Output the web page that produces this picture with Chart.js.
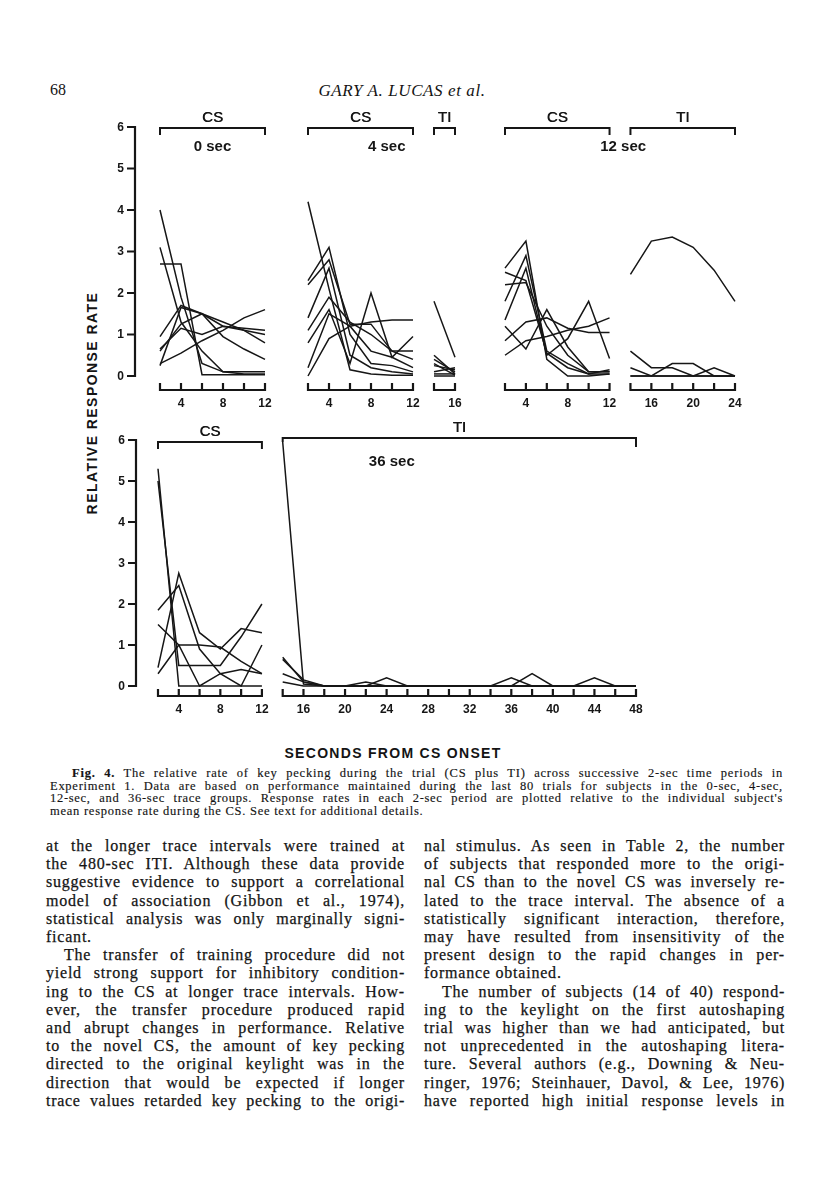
<!DOCTYPE html>
<html>
<head>
<meta charset="utf-8">
<script src="https://cdn.jsdelivr.net/npm/chart.js@4.4.1/dist/chart.umd.min.js"></script>
<style>
body { margin: 0; background: #fff; }
#page {
  position: relative; width: 816px; height: 1200px; overflow: hidden;
  font-family: "Liberation Serif", serif; color: #141414;
}
#page canvas { position: absolute; }
.abs { position: absolute; white-space: pre; }
.col { position: absolute; font-size: 16px; line-height: 18.2px; -webkit-text-stroke: 0.25px #141414; }
.cap { position: absolute; font-size: 12.5px; line-height: 12.5px; -webkit-text-stroke: 0.15px #141414; }
.ln { white-space: pre; }
.ln span { display: inline-block; white-space: pre; }
.sans { font-family: "Liberation Sans", sans-serif; font-weight: bold; }
#ylab {
  left: 92px; top: 403px; font-size: 14px; letter-spacing: 1.45px;
  transform: translate(-50%, -50%) rotate(-90deg);
}
#xlab { left: 393px; top: 753px; font-size: 14px; letter-spacing: 1.3px; transform: translate(-50%, -50%); }
</style>
</head>
<body>
<div id="page">

  <div class="abs" style="left:50px; top:81px; font-size:16px;">68</div>
  <div class="abs" style="left:402px; top:81px; font-size:17px; font-style:italic; letter-spacing:0.6px; transform:translateX(-50%);">GARY A. LUCAS et al.</div>

  <div id="ylab" class="abs sans">RELATIVE RESPONSE RATE</div>
  <div id="xlab" class="abs sans">SECONDS FROM CS ONSET</div>

  <!-- caption -->
  <div class="cap" style="left:50px; top:767px; width:733px;">
    <div class="ln" data-ind="22"><b>Fig. 4.</b> The relative rate of key pecking during the trial (CS plus TI) across successive 2-sec time periods in</div>
    <div class="ln">Experiment 1. Data are based on performance maintained during the last 80 trials for subjects in the 0-sec, 4-sec,</div>
    <div class="ln">12-sec, and 36-sec trace groups. Response rates in each 2-sec period are plotted relative to the individual subject's</div>
    <div class="ln end">mean response rate during the CS. See text for additional details.</div>
  </div>

  <!-- text columns -->
  <div class="col" style="left:46px; top:837px; width:359px;">
    <div class="ln">at the longer trace intervals were trained at</div>
    <div class="ln">the 480-sec ITI. Although these data provide</div>
    <div class="ln">suggestive evidence to support a correlational</div>
    <div class="ln">model of association (Gibbon et al., 1974),</div>
    <div class="ln">statistical analysis was only marginally signi-</div>
    <div class="ln end">ficant.</div>
    <div class="ln" data-ind="18">The transfer of training procedure did not</div>
    <div class="ln">yield strong support for inhibitory condition-</div>
    <div class="ln">ing to the CS at longer trace intervals. How-</div>
    <div class="ln">ever, the transfer procedure produced rapid</div>
    <div class="ln">and abrupt changes in performance. Relative</div>
    <div class="ln">to the novel CS, the amount of key pecking</div>
    <div class="ln">directed to the original keylight was in the</div>
    <div class="ln">direction that would be expected if longer</div>
    <div class="ln">trace values retarded key pecking to the origi-</div>
  </div>
  <div class="col" style="left:424px; top:837px; width:361px;">
    <div class="ln">nal stimulus. As seen in Table 2, the number</div>
    <div class="ln">of subjects that responded more to the origi-</div>
    <div class="ln">nal CS than to the novel CS was inversely re-</div>
    <div class="ln">lated to the trace interval. The absence of a</div>
    <div class="ln">statistically significant interaction, therefore,</div>
    <div class="ln">may have resulted from insensitivity of the</div>
    <div class="ln">present design to the rapid changes in per-</div>
    <div class="ln end">formance obtained.</div>
    <div class="ln" data-ind="18">The number of subjects (14 of 40) respond-</div>
    <div class="ln">ing to the keylight on the first autoshaping</div>
    <div class="ln">trial was higher than we had anticipated, but</div>
    <div class="ln">not unprecedented in the autoshaping litera-</div>
    <div class="ln">ture. Several authors (e.g., Downing &amp; Neu-</div>
    <div class="ln">ringer, 1976; Steinhauer, Davol, &amp; Lee, 1976)</div>
    <div class="ln">have reported high initial response levels in</div>
  </div>
</div>

<script>
// time axis (sec from CS onset), one point every 2 sec
var csTimes   = [2, 4, 6, 8, 10, 12];
var ti4Times  = [14, 16];
var ti12Times = [14, 16, 18, 20, 22, 24];
var ti36Times = [14, 16, 18, 20, 22, 24, 26, 28, 30, 32, 34, 36, 38, 40, 42, 44, 46, 48];

// tick labels
var yTicks    = [0, 1, 2, 3, 4, 5, 6];
var xLabels0  = [4, 8, 12];
var xLabels4  = [4, 8, 12, 16];
var xLabels12 = [4, 8, 12, 16, 20, 24];
var xLabels36 = [4, 8, 12, 16, 20, 24, 28, 32, 36, 40, 44, 48];

// relative response rate, one row per subject
var sec0CS = [
  [4.0, 1.9, 0.3, 0.1, 0.1, 0.1],
  [3.1, 1.3, 0.6, 0.1, 0.05, 0.05],
  [2.7, 2.7, 0.03, 0.03, 0.03, 0.03],
  [0.95, 1.7, 1.5, 1.3, 1.1, 0.8],
  [0.65, 1.15, 1.0, 1.2, 1.15, 1.1],
  [0.6, 1.25, 1.5, 0.95, 0.65, 0.4],
  [0.3, 0.55, 0.85, 1.1, 1.4, 1.6],
  [0.25, 1.65, 1.5, 1.2, 1.1, 1.0]
];
var sec4CS = [
  [4.2, 2.1, 0.15, 0.05, 0.02, 0.02],
  [2.3, 3.1, 1.0, 0.3, 0.25, 0.1],
  [2.2, 2.8, 1.25, 1.25, 0.6, 0.6],
  [1.4, 2.6, 0.5, 0.2, 0.1, 0.05],
  [0.8, 1.6, 0.3, 2.0, 0.45, 0.95],
  [1.1, 1.9, 1.3, 1.0, 0.6, 0.4],
  [0.2, 1.5, 1.2, 0.6, 0.45, 0.2],
  [0.0, 0.9, 1.2, 1.3, 1.35, 1.35]
];
var sec4TI = [
  [1.8, 0.45], [0.5, 0.05], [0.4, 0.1], [0.25, 0.15],
  [0.1, 0.2], [0.05, 0.05], [0.3, 0.02], [0.0, 0.0]
];
var sec12CS = [
  [2.6, 3.25, 0.4, 0.0, 0.0, 0.05],
  [2.5, 2.3, 0.55, 0.2, 0.05, 0.05],
  [2.2, 2.25, 1.2, 0.5, 0.1, 0.1],
  [1.8, 2.9, 0.6, 0.3, 0.05, 0.15],
  [1.35, 2.6, 0.5, 0.9, 1.8, 0.42],
  [1.2, 0.65, 1.6, 0.7, 0.1, 0.1],
  [0.85, 1.3, 1.4, 1.15, 1.05, 1.05],
  [0.5, 0.85, 0.95, 1.1, 1.2, 1.4]
];
var sec12TI = [
  [2.45, 3.25, 3.35, 3.1, 2.55, 1.8],
  [0.6, 0.2, 0.2, 0.0, 0.0, 0.0],
  [0.2, 0.0, 0.3, 0.3, 0.0, 0.0],
  [0.0, 0.0, 0.0, 0.0, 0.2, 0.0],
  [0.0, 0.0, 0.0, 0.0, 0.0, 0.0]
];
var sec36CS = [
  [5.3, 0.0, 0.0, 0.0, 0.0, 0.0],
  [5.0, 0.5, 0.5, 0.5, 1.2, 2.0],
  [1.85, 2.45, 0.9, 0.3, 0.0, 1.0],
  [0.45, 2.75, 1.3, 0.9, 1.4, 1.3],
  [1.5, 1.0, 0.0, 0.3, 0.4, 0.3],
  [0.3, 1.0, 1.0, 0.95, 0.6, 0.3]
];
var sec36TI = [
  [5.95, 0.05, 0, 0, 0, 0, 0, 0, 0, 0, 0, 0, 0, 0, 0, 0, 0, 0],
  [0.7, 0.1, 0, 0, 0.1, 0, 0, 0, 0, 0, 0, 0, 0, 0, 0, 0, 0, 0],
  [0.65, 0.15, 0, 0, 0, 0.2, 0, 0, 0, 0, 0, 0.2, 0, 0, 0, 0.2, 0, 0],
  [0.3, 0.1, 0, 0, 0, 0, 0, 0, 0, 0, 0, 0, 0.3, 0, 0, 0, 0, 0],
  [0.1, 0, 0, 0, 0, 0, 0, 0, 0, 0, 0, 0, 0, 0, 0, 0, 0, 0]
];

var ink = "#161616";

function series(times, rows) {
  return rows.map(function (r) {
    return {
      data: r.map(function (v, i) { return { x: times[i], y: v }; }),
      borderColor: ink, borderWidth: 1.5, pointRadius: 0, tension: 0, clip: false, fill: false
    };
  });
}

// draws axes, brackets and labels with the chart's own scales
function figurePlugin(cfg) {
  return {
    id: "figure",
    afterDraw: function (chart) {
      var ctx = chart.ctx, a = chart.chartArea, x = chart.scales.x, y = chart.scales.y;
      ctx.save();
      ctx.strokeStyle = ink; ctx.fillStyle = ink; ctx.lineWidth = 2.2;
      ctx.textAlign = "center"; ctx.textBaseline = "middle";

      if (cfg.yAxis) {
        var ax = a.left - cfg.yGap;
        ctx.beginPath();
        ctx.moveTo(ax, y.getPixelForValue(0) + 1);
        ctx.lineTo(ax, y.getPixelForValue(6) - 1);
        yTicks.forEach(function (v) {
          var py = y.getPixelForValue(v);
          ctx.moveTo(ax + 1, py); ctx.lineTo(ax - 8, py);
        });
        ctx.stroke();
        ctx.font = 'bold 12px "Liberation Sans"';
        ctx.textAlign = "right";
        yTicks.forEach(function (v) { ctx.fillText(String(v), ax - 11, y.getPixelForValue(v) + 0.5); });
        ctx.textAlign = "center";
      }

      var ay = a.bottom + cfg.xGap;
      ctx.beginPath();
      cfg.segments.forEach(function (s) {
        ctx.moveTo(x.getPixelForValue(s[0]) - 1, ay);
        ctx.lineTo(x.getPixelForValue(s[1]) + 1, ay);
        for (var t = s[0]; t <= s[1]; t += 2) {
          var px = x.getPixelForValue(t);
          ctx.moveTo(px, ay + 1); ctx.lineTo(px, ay - 7);
        }
      });
      ctx.stroke();
      ctx.font = 'bold 12px "Liberation Sans"';
      cfg.xLabels.forEach(function (v) { ctx.fillText(String(v), x.getPixelForValue(v), ay + 14); });

      cfg.brackets.forEach(function (b) {
        var x1 = x.getPixelForValue(b.from), x2 = x.getPixelForValue(b.to), by = a.top + b.dy;
        ctx.lineWidth = 2;
        ctx.beginPath();
        ctx.moveTo(x1, by + b.dropL); ctx.lineTo(x1, by); ctx.lineTo(x2, by); ctx.lineTo(x2, by + b.dropR);
        ctx.stroke();
        ctx.font = '15px "Liberation Sans"';
        ctx.fillText(b.label, (x1 + x2) / 2, by - 10);
        ctx.fillText(b.label, (x1 + x2) / 2 + 0.5, by - 10);
      });

      cfg.notes.forEach(function (n) {
        ctx.font = 'bold 15px "Liberation Sans"';
        ctx.fillText(n.text, x.getPixelForValue(n.at), a.top + n.dy);
      });
      ctx.restore();
    }
  };
}

function panel(box, datasets, xMax, cfg) {
  var c = document.createElement("canvas");
  c.width = box.w; c.height = box.h;
  c.style.left = box.left + "px"; c.style.top = box.top + "px";
  c.style.width = box.w + "px"; c.style.height = box.h + "px";
  document.getElementById("page").appendChild(c);
  new Chart(c, {
    type: "line",
    data: { datasets: datasets },
    options: {
      responsive: false, animation: false, devicePixelRatio: 1,
      layout: { padding: box.pad },
      scales: {
        x: { type: "linear", min: 2, max: xMax, display: false },
        y: { min: 0, max: 6, display: false }
      },
      plugins: { legend: { display: false }, tooltip: { enabled: false } }
    },
    plugins: [figurePlugin(cfg)]
  });
}

// 0-sec group
panel({ left: 75, top: 100, w: 215, h: 320, pad: { left: 85, right: 25, top: 27, bottom: 44 } },
  series(csTimes, sec0CS), 12,
  { yAxis: true, yGap: 25, xGap: 14, segments: [[2, 12]], xLabels: xLabels0,
    brackets: [{ label: "CS", from: 2, to: 12, dy: 1, dropL: 7, dropR: 7 }],
    notes: [{ text: "0 sec", at: 7, dy: 20 }] });

// 4-sec group
panel({ left: 283, top: 100, w: 197, h: 320, pad: { left: 25, right: 25, top: 27, bottom: 44 } },
  series(csTimes, sec4CS).concat(series(ti4Times, sec4TI)), 16,
  { yAxis: false, xGap: 14, segments: [[2, 12], [14, 16]], xLabels: xLabels4,
    brackets: [{ label: "CS", from: 2, to: 12, dy: 1, dropL: 7, dropR: 7 },
               { label: "TI", from: 14, to: 16, dy: 1, dropL: 7, dropR: 7 }],
    notes: [{ text: "4 sec", at: 9.5, dy: 20 }] });

// 12-sec group
panel({ left: 480, top: 100, w: 280, h: 320, pad: { left: 25, right: 25, top: 27, bottom: 44 } },
  series(csTimes, sec12CS).concat(series(ti12Times, sec12TI)), 24,
  { yAxis: false, xGap: 14, segments: [[2, 12], [14, 24]], xLabels: xLabels12,
    brackets: [{ label: "CS", from: 2, to: 12, dy: 1, dropL: 7, dropR: 7 },
               { label: "TI", from: 14, to: 24, dy: 1, dropL: 7, dropR: 7 }],
    notes: [{ text: "12 sec", at: 13.3, dy: 20 }] });

// 36-sec group
panel({ left: 75, top: 410, w: 586, h: 310, pad: { left: 83, right: 25, top: 30, bottom: 34 } },
  series(csTimes, sec36CS).concat(series(ti36Times, sec36TI)), 48,
  { yAxis: true, yGap: 22, xGap: 10, segments: [[2, 12], [14, 48]], xLabels: xLabels36,
    brackets: [{ label: "CS", from: 2, to: 12, dy: 2, dropL: 7, dropR: 7 },
               { label: "TI", from: 14, to: 48, dy: -2, dropL: 4, dropR: 9 }],
    notes: [{ text: "36 sec", at: 24.5, dy: 22 }] });

// justify each printed line to its column width
function fitBlock(block) {
  var W = block.clientWidth, lsSum = 0, lsN = 0;
  var lines = Array.prototype.slice.call(block.querySelectorAll(".ln"));
  lines.forEach(function (ln) {
    var span = document.createElement("span");
    span.innerHTML = ln.innerHTML;
    ln.innerHTML = "";
    ln.appendChild(span);
    var ind = +(ln.getAttribute("data-ind") || 0);
    ln.style.paddingLeft = ind + "px";
    if (ln.classList.contains("end")) return;
    var txt = span.textContent, chars = txt.length, spaces = (txt.match(/ /g) || []).length;
    var extra = (W - ind) - span.getBoundingClientRect().width;
    var ls = Math.max(-0.5, Math.min(0.8, extra * 0.5 / chars));
    var ws = spaces ? (extra - ls * chars) / spaces : 0;
    span.style.letterSpacing = ls + "px";
    span.style.wordSpacing = ws + "px";
    lsSum += ls; lsN++;
  });
  var lsAvg = lsN ? lsSum / lsN : 0;
  lines.forEach(function (ln) {
    if (ln.classList.contains("end")) ln.firstChild.style.letterSpacing = lsAvg + "px";
  });
}
document.querySelectorAll(".col, .cap").forEach(fitBlock);
</script>
</body>
</html>
